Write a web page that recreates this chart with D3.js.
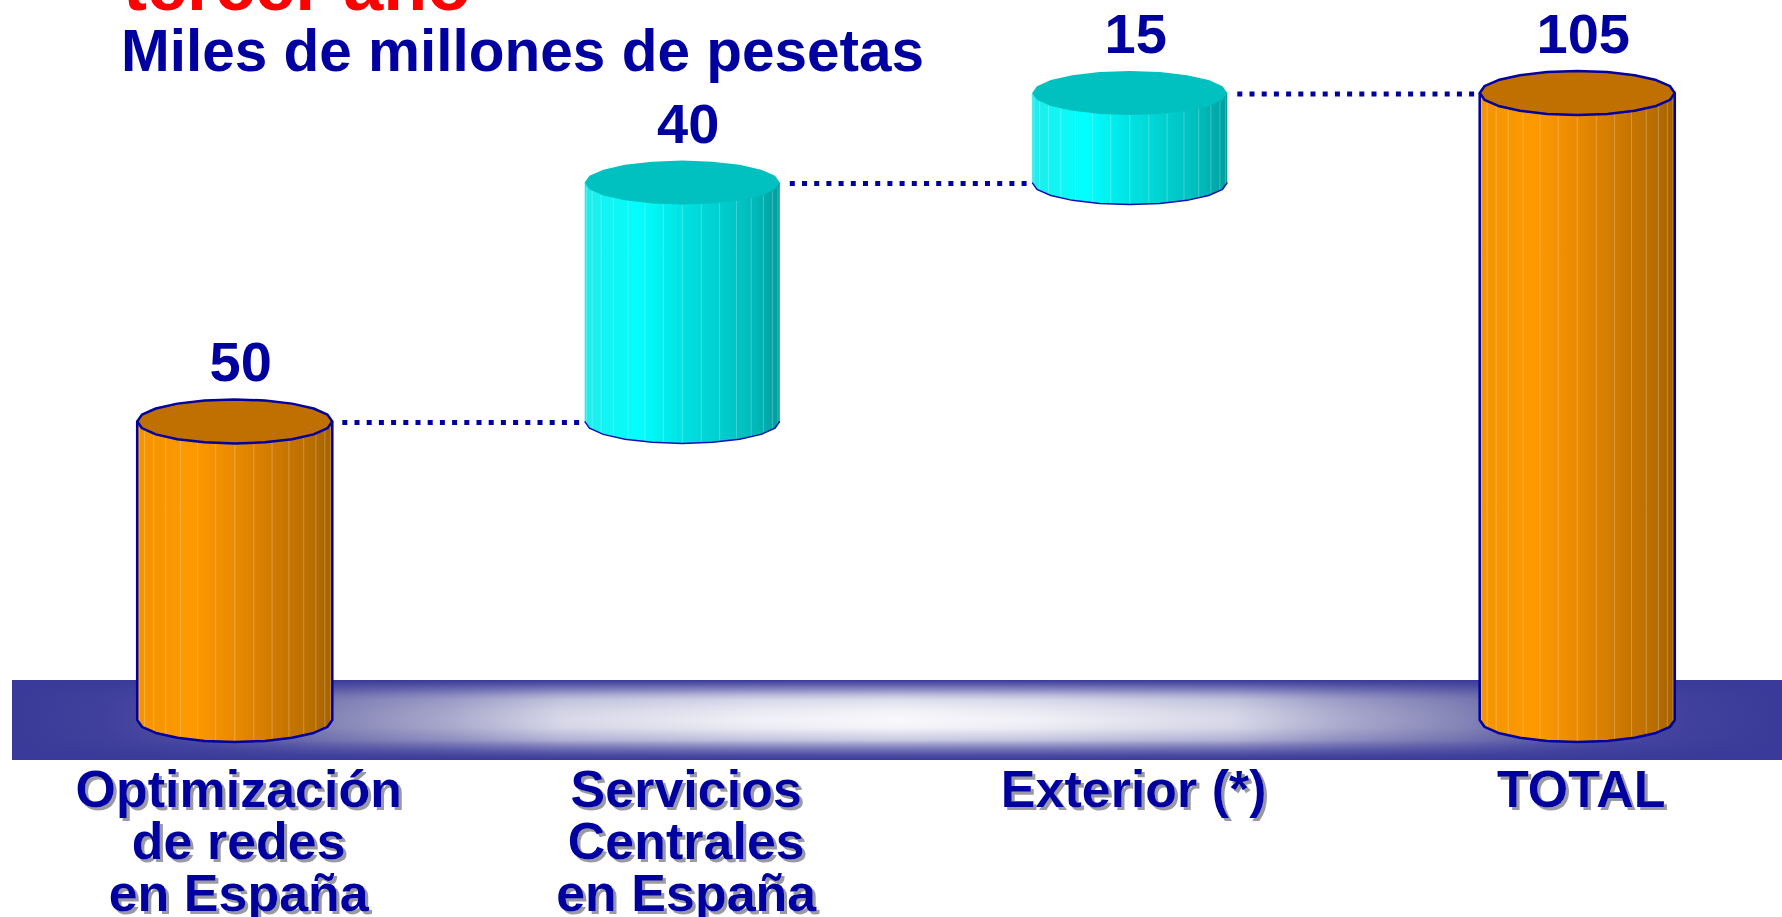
<!DOCTYPE html>
<html>
<head>
<meta charset="utf-8">
<script src="https://cdnjs.cloudflare.com/ajax/libs/d3/7.8.5/d3.min.js"></script>
<style>
  html, body { margin: 0; padding: 0; background: #fff; overflow: hidden; }
  svg { display: block; font-family: "Liberation Sans", Arial, sans-serif; font-weight: bold; }
</style>
</head>
<body>
<svg id="chart" width="1782" height="917"></svg>
<script>
// Data
const titleText = 'tercer año';
const subtitleText = 'Miles de millones de pesetas';
const categories = ['Optimización\nde redes\nen España', 'Servicios\nCentrales\nen España', 'Exterior (*)', 'TOTAL'];
const values = [50, 40, 15, 105];
const barKind = ['base', 'step', 'step', 'total'];

const W = 1782, H = 917;
const blue = '#0000a0';
const svg = d3.select('#chart');
const defs = svg.append('defs');

// running totals for the waterfall
let running = 0;
const bars = categories.map((c, i) => {
  const kind = barKind[i];
  const y0 = kind === 'step' ? running : 0;
  const y1 = kind === 'step' ? running + values[i] : values[i];
  running = y1;
  return { cat: c, value: values[i], kind, y0, y1 };
});

const x = d3.scaleBand().domain(categories).range([11, 1801]).padding(0);
const y = d3.scaleLinear().domain([0, d3.max(values)]).range([720, 93]);
const rx = x.bandwidth() * 0.218;
const ry = 22;
const cxOf = d => x(d.cat) + x.bandwidth() / 2;

// gradients
function linGrad(id, stops, vertical) {
  const g = defs.append('linearGradient').attr('id', id)
    .attr('x1', 0).attr('y1', 0).attr('x2', vertical ? 0 : 1).attr('y2', vertical ? 1 : 0);
  stops.forEach(s => g.append('stop').attr('offset', s[0]).attr('stop-color', s[1])
    .attr('stop-opacity', s[2] == null ? 1 : s[2]));
}
linGrad('side-orange', [[0, '#f39400'], [0.28, '#ff9900'], [0.5, '#e98a00'], [0.75, '#c97600'], [0.88, '#bb6f00'], [1, '#a46200']]);
linGrad('side-cyan', [[0, '#20ecec'], [0.28, '#00ffff'], [0.5, '#00e2e2'], [0.75, '#00c8c8'], [0.88, '#00b8b8'], [1, '#009c9c']]);
linGrad('band-h', [[0, '#3a3a9a'], [0.05, '#40409c'], [0.11, '#5252a6'], [0.185, '#8888b8'], [0.25, '#acacce'],
  [0.31, '#d8d8e8'], [0.42, '#f0f0f6'], [0.5, '#f9f9fb'], [0.58, '#f0f0f6'], [0.69, '#d8d8e8'], [0.75, '#acacce'],
  [0.815, '#8888b8'], [0.89, '#5252a6'], [0.95, '#40409c'], [1, '#3a3a9a']]);
linGrad('band-v', [[0, '#3a3a9a', 1], [0.06, '#3a3a9a', 0.8], [0.125, '#3a3a9a', 0.55], [0.19, '#3a3a9a', 0.3],
  [0.25, '#3a3a9a', 0.14], [0.38, '#3a3a9a', 0.04], [0.5, '#3a3a9a', 0], [0.6, '#3a3a9a', 0.03],
  [0.75, '#3a3a9a', 0.25], [0.81, '#3a3a9a', 0.5], [0.875, '#3a3a9a', 0.72], [0.94, '#3a3a9a', 0.9], [1, '#3a3a9a', 1]], true);

const shadow = defs.append('filter').attr('id', 'shadow')
  .attr('x', '-5%').attr('y', '-5%').attr('width', '115%').attr('height', '115%');
shadow.append('feDropShadow').attr('dx', 3).attr('dy', 3).attr('stdDeviation', 0.6)
  .attr('flood-color', '#9a9aa4').attr('flood-opacity', 1);

// floor band
const band = svg.append('g').attr('class', 'floor');
band.append('rect').attr('x', 12).attr('y', 680).attr('width', W - 12).attr('height', 80).attr('fill', 'url(#band-h)');
band.append('rect').attr('x', 12).attr('y', 680).attr('width', W - 12).attr('height', 80).attr('fill', 'url(#band-v)');

// titles
svg.append('text').attr('x', 123).attr('y', 10).attr('font-size', 72).attr('fill', '#ff0000').text(titleText);
svg.append('text').attr('x', 121).attr('y', 71).attr('font-size', 58.5).attr('fill', blue).text(subtitleText);

// connectors
const conn = svg.append('g').attr('class', 'connectors');
bars.slice(0, -1).forEach((d, i) => {
  const next = bars[i + 1];
  conn.append('line')
    .attr('x1', cxOf(d) + rx + 10).attr('x2', cxOf(next) - rx - 4)
    .attr('y1', y(d.y1) + 1).attr('y2', y(d.y1) + 1)
    .attr('stroke', blue).attr('stroke-width', 5).attr('stroke-dasharray', '5 7.2');
});

// cylinders
const N = 20;
const ring = (cx, cy, a0, a1, n) => d3.range(n + 1).map(k => {
  const t = a0 + (a1 - a0) * k / n;
  return [cx + rx * Math.cos(t), cy + ry * Math.sin(t)];
});
const line = d3.line();

const cyl = svg.append('g').attr('class', 'cylinders');
bars.forEach(d => {
  const cx = cxOf(d), yt = y(d.y1), yb = y(d.y0);
  const orange = d.kind !== 'step';
  const g = cyl.append('g');
  const bottom = ring(cx, yb, Math.PI, 0, N / 2);
  g.append('path')
    .attr('d', line([[cx - rx, yt], ...bottom, [cx + rx, yt]]) + 'Z')
    .attr('fill', orange ? 'url(#side-orange)' : 'url(#side-cyan)');
  // facet lines, denser towards the edges
  d3.range(1, 16).forEach(k => {
    const t = k * Math.PI / 16;
    const fx = cx - rx * Math.cos(t), off = ry * Math.sin(t);
    g.append('line').attr('x1', fx).attr('x2', fx).attr('y1', yt + off).attr('y2', yb + off)
      .attr('stroke', '#ffffff').attr('stroke-opacity', 0.25).attr('stroke-width', 1);
  });
  if (orange) {
    g.append('path').attr('d', line([[cx - rx, yt], ...bottom, [cx + rx, yt]]))
      .attr('fill', 'none').attr('stroke', blue).attr('stroke-width', 2.5).attr('stroke-linejoin', 'round');
  } else {
    g.append('path').attr('d', line(bottom))
      .attr('fill', 'none').attr('stroke', '#1010b0').attr('stroke-width', 1.5);
  }
  g.append('path')
    .attr('d', line(ring(cx, yt, 0, 2 * Math.PI, N)) + 'Z')
    .attr('fill', orange ? '#c07000' : '#00c0c0')
    .attr('stroke', orange ? blue : 'none').attr('stroke-width', 2.5).attr('stroke-linejoin', 'round');

  // value label
  g.append('text').attr('x', cx + 6).attr('y', yt - 40)
    .attr('text-anchor', 'middle').attr('font-size', 56).attr('fill', blue).text(d.value);
});

// category labels with drop shadow
const labels = svg.append('g').attr('class', 'labels');
bars.forEach(d => {
  const t = labels.append('text').attr('text-anchor', 'middle').attr('font-size', 52)
    .attr('fill', blue).attr('filter', 'url(#shadow)');
  d.cat.split('\n').forEach((l, j) => t.append('tspan').attr('x', cxOf(d) + 4).attr('y', 807 + j * 52).text(l));
});
</script>
</body>
</html>
